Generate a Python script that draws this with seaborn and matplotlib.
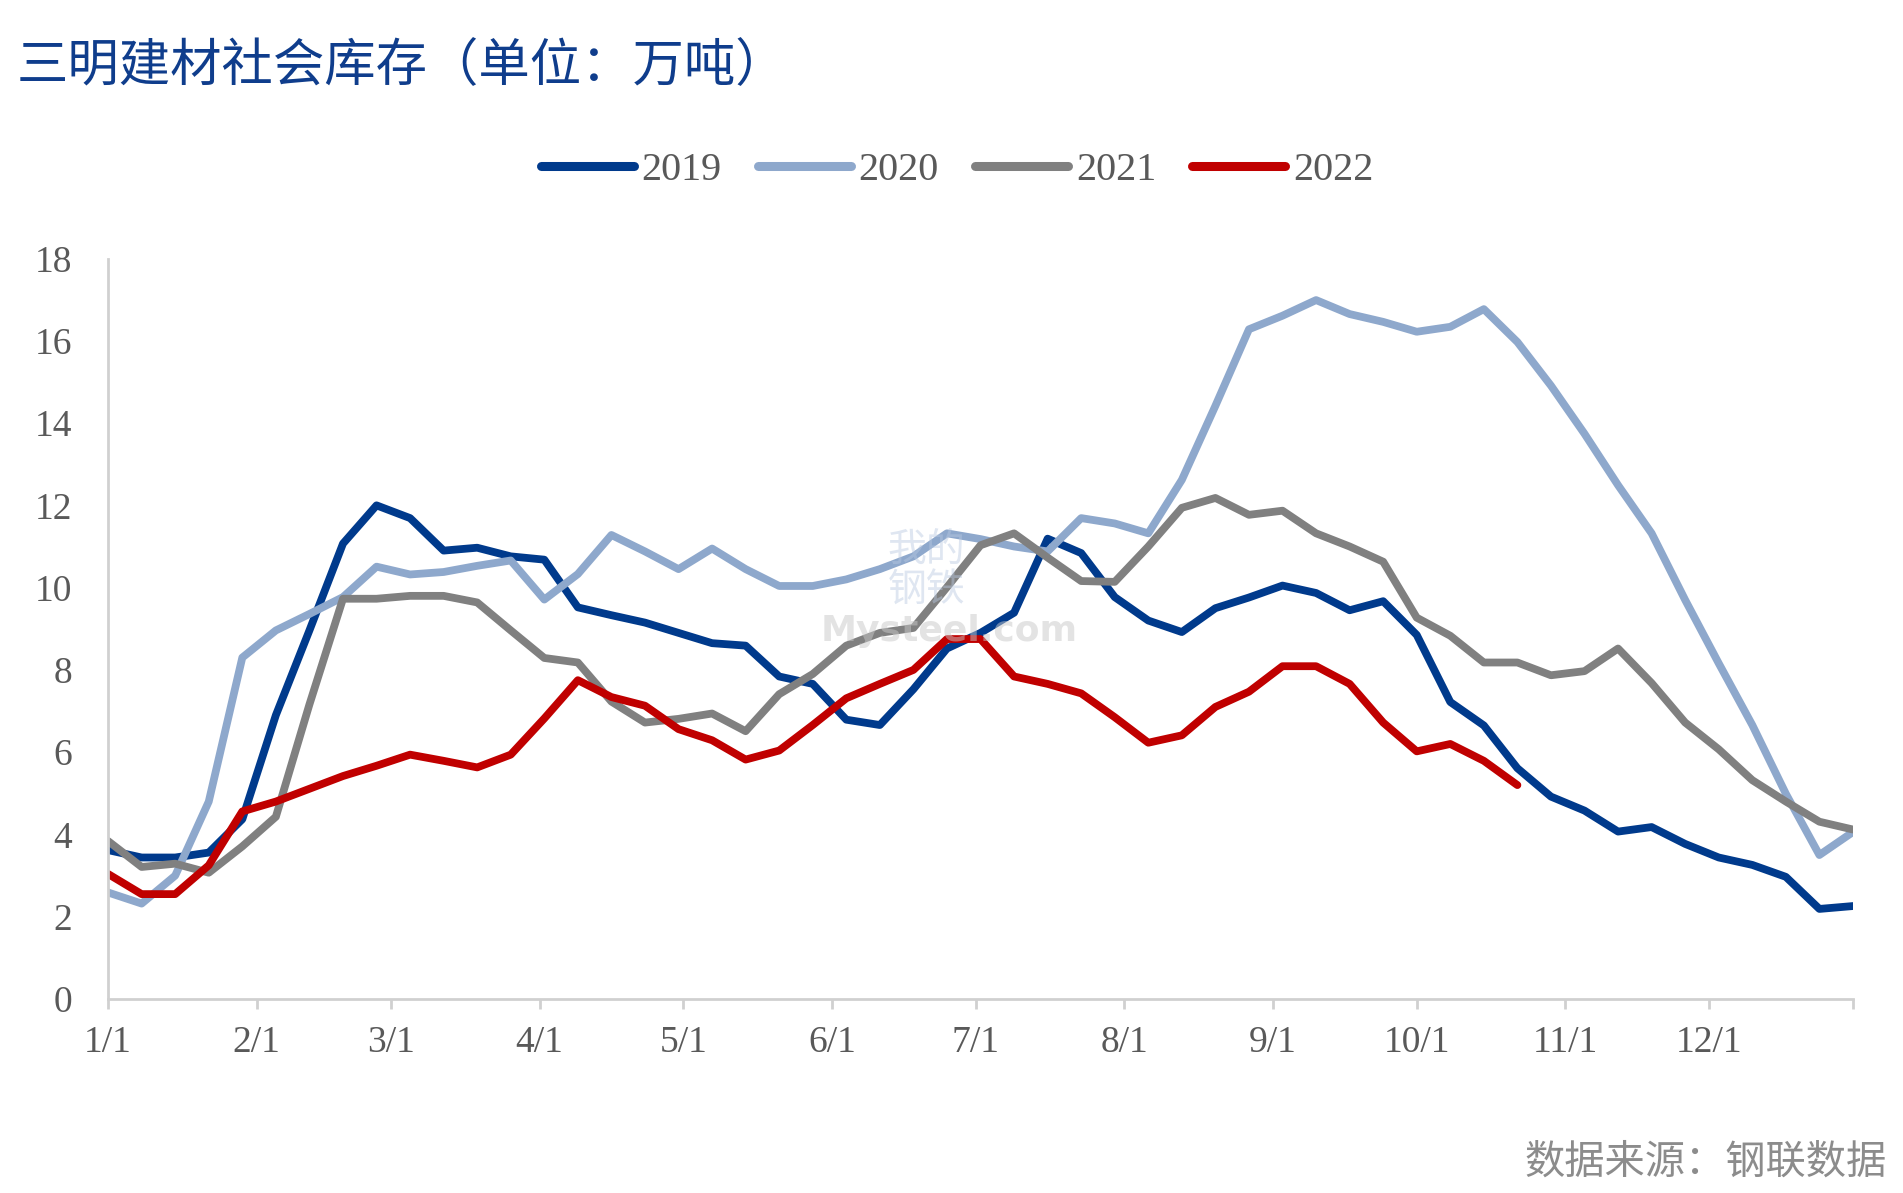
import matplotlib
matplotlib.use("Agg")
import matplotlib.pyplot as plt
import seaborn as sns
import pandas as pd

# ---- data ----
years = ["2019", "2020", "2021", "2022"]
week_day = list(range(0, 365, 7))  # weekly sample days from 1/1

s2019 = [3.62, 3.44, 3.44, 3.56, 4.37, 6.9, 8.96, 11.07, 12.0, 11.69, 10.9, 10.97, 10.76, 10.68,
         9.52, 9.33, 9.15, 8.9, 8.65, 8.59, 7.84, 7.66, 6.79, 6.66, 7.53, 8.52, 8.9,
         9.39, 11.19, 10.84, 9.77, 9.2, 8.92, 9.5, 9.76, 10.05, 9.87, 9.45, 9.67, 8.85,
         7.22, 6.65, 5.61, 4.92, 4.58, 4.07, 4.18, 3.77, 3.44, 3.26, 2.97, 2.19, 2.26]
s2020 = [2.59, 2.32, 3.0, 4.8, 8.3, 8.96, 9.36, 9.77, 10.51, 10.32, 10.38, 10.53, 10.66, 9.71,
         10.33, 11.28, 10.88, 10.45, 10.95, 10.45, 10.04, 10.04, 10.2, 10.45, 10.76, 11.32, 11.18,
         11.0, 10.88, 11.69, 11.56, 11.32, 12.62, 14.42, 16.28, 16.61, 16.99, 16.65, 16.46, 16.22,
         16.34, 16.77, 15.97, 14.91, 13.74, 12.49, 11.32, 9.7, 8.16, 6.66, 4.99, 3.5, 4.06]
s2021 = [3.84, 3.21, 3.29, 3.07, 3.71, 4.43, 7.16, 9.73, 9.73, 9.8, 9.8, 9.64, 8.96, 8.29,
         8.18, 7.23, 6.72, 6.81, 6.94, 6.51, 7.41, 7.9, 8.59, 8.9, 9.02, 10.01, 11.03,
         11.32, 10.73, 10.16, 10.14, 11.0, 11.94, 12.18, 11.77, 11.87, 11.32, 11.0, 10.63, 9.27,
         8.83, 8.18, 8.18, 7.87, 7.97, 8.52, 7.68, 6.72, 6.07, 5.32, 4.8, 4.31, 4.12]
s2022 = [3.04, 2.55, 2.55, 3.25, 4.56, 4.8, 5.11, 5.42, 5.67, 5.94, 5.79, 5.63, 5.94, 6.82,
         7.75, 7.34, 7.13, 6.56, 6.29, 5.82, 6.04, 6.66, 7.31, 7.66, 8.0, 8.75, 8.75,
         7.84, 7.66, 7.43, 6.85, 6.23, 6.41, 7.1, 7.47, 8.09, 8.09, 7.66, 6.72, 6.02,
         6.2, 5.79, 5.2]

month_tick_days = [0, 31, 59, 90, 120, 151, 181, 212, 243, 273, 304, 334, 364]
month_tick_labels = ["1/1", "2/1", "3/1", "4/1", "5/1", "6/1", "7/1", "8/1",
                     "9/1", "10/1", "11/1", "12/1", ""]
y_ticks = [0, 2, 4, 6, 8, 10, 12, 14, 16, 18]

title_text = "三明建材社会库存（单位：万吨）"
source_text = "数据来源：钢联数据"

colors = {"2019": "#003A8C", "2020": "#8EA8CC", "2021": "#808080", "2022": "#C00000"}

# ---- build table ----
series = {"2019": s2019, "2020": s2020, "2021": s2021, "2022": s2022}
rows = []
for y in years:
    for d, v in zip(week_day, series[y]):
        rows.append({"day": d, "value": v, "year": y})
df = pd.DataFrame(rows)

sns.set_theme(style="white")
plt.rcParams["font.family"] = ["Liberation Serif", "Noto Sans CJK SC", "DejaVu Sans"]

fig = plt.figure(figsize=(19.03, 11.93), dpi=100)
ax = fig.add_axes([0.0568, 0.1626, 0.9169, 0.6207])

sns.lineplot(data=df, x="day", y="value", hue="year", hue_order=years,
             palette=colors, linewidth=5.6, legend=False, ax=ax,
             solid_capstyle="round", solid_joinstyle="round", sort=False)

ax.set_xlim(0, 364)
ax.set_ylim(0, 18)
ax.set_xticks(month_tick_days)
ax.set_xticklabels(month_tick_labels)
ax.set_yticks(y_ticks)
ax.set_xlabel("")
ax.set_ylabel("")

for side in ["top", "right"]:
    ax.spines[side].set_visible(False)
for side in ["left", "bottom"]:
    ax.spines[side].set_color("#D0D0D0")
    ax.spines[side].set_linewidth(2)

ax.tick_params(axis="x", which="major", direction="out", length=7, width=2,
               color="#D0D0D0", labelsize=27, labelcolor="#595959", pad=12, bottom=True)
ax.tick_params(axis="y", which="major", length=0, labelsize=27,
               labelcolor="#595959", pad=26)
ax.grid(False)

# legend
handles = [plt.Line2D([], [], color=colors[y], linewidth=6.5, solid_capstyle="round") for y in years]
fig.legend(handles, years, loc="center", bbox_to_anchor=(0.503, 0.857), ncol=4,
           frameon=False, fontsize=29, handlelength=2.3, handletextpad=0.2,
           columnspacing=0.9, labelcolor="#595959")

# title
fig.text(0.009, 0.944, title_text, ha="left", va="center", fontsize=37,
         color="#0F3D8C", family=["Noto Sans CJK SC", "DejaVu Sans"], fontweight="medium")

# source
fig.text(0.9916, 0.026, source_text, ha="right", va="center", fontsize=29,
         color="#8C8C8C", family=["Noto Sans CJK SC", "DejaVu Sans"])

# faint watermark
fig.text(0.487, 0.522, "我的\n钢铁", ha="center", va="center", fontsize=28,
         color="#B8C8E0", alpha=0.45, linespacing=1.0,
         family=["Noto Sans CJK SC", "DejaVu Sans"], zorder=0)
fig.text(0.499, 0.471, "Mysteel.com", ha="center", va="center", fontsize=26,
         color="#C8C8C8", alpha=0.5, family=["DejaVu Sans"], fontweight="bold", zorder=0)

fig.savefig("out.png", dpi=100)
